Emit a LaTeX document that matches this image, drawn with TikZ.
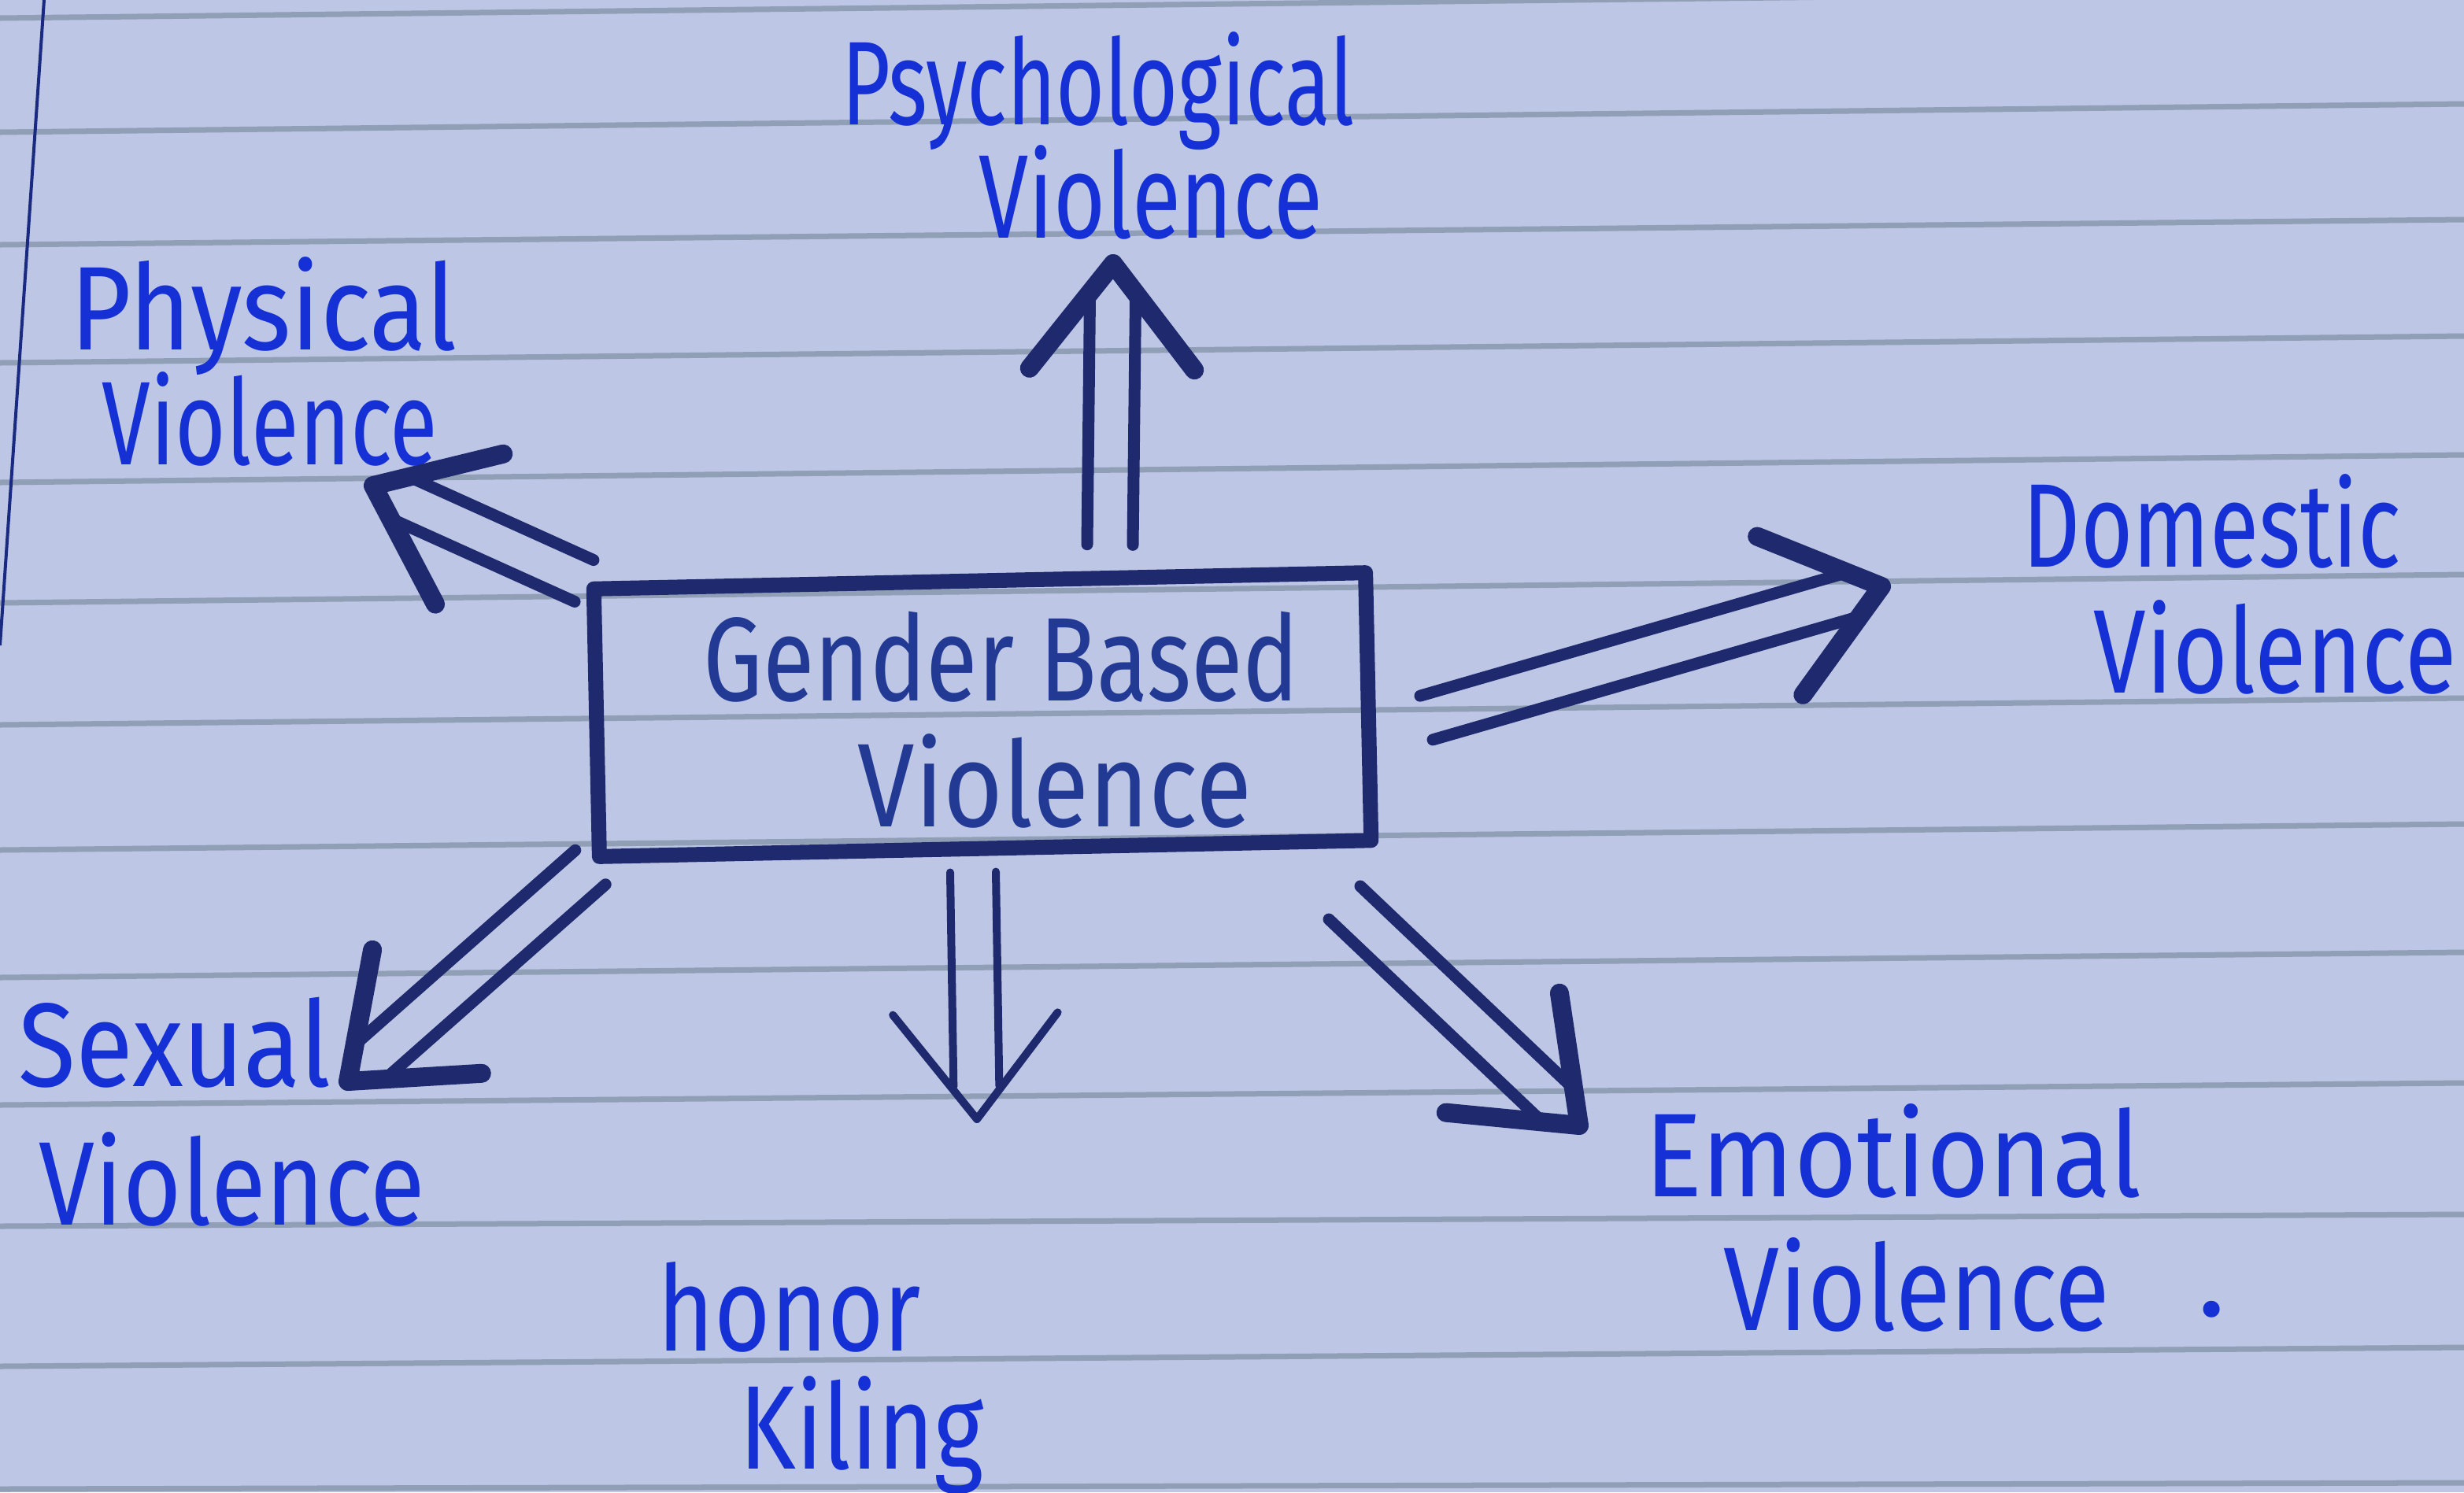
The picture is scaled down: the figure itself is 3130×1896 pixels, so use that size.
\documentclass[tikz,border=0pt]{standalone}
\usepackage{fontspec}
\setmainfont{Fira Sans}
\usepackage{graphicx}
\usetikzlibrary{calc}
\definecolor{paper}{HTML}{BEC6E5}
\definecolor{rulecol}{HTML}{909EB6}
\definecolor{inkblue}{HTML}{1530D5}
\definecolor{navy}{HTML}{1F2A6E}
\definecolor{navytext}{HTML}{233A94}
\definecolor{margincol}{HTML}{1A2A80}
\newcommand\hw[2]{\resizebox{#1}{\height}{#2}}
\newcommand\dblarrow[3][]{%
  \path ($(#3)!0.42cm!(#2)$) coordinate (dbE);
  \draw[shaft,#1] ($(#2)!0.29cm!90:(dbE)$) -- ($(dbE)!0.29cm!-90:(#2)$);
  \draw[shaft,#1] ($(#2)!0.29cm!-90:(dbE)$) -- ($(dbE)!0.29cm!90:(#2)$);
  \draw[chev,#1] ($(#3)!1.7cm!38:(#2)$) -- (#3) -- ($(#3)!1.7cm!-38:(#2)$);
}
\begin{document}
\begin{tikzpicture}[x=0.01cm,y=-0.01cm,
  lbl/.style={inner sep=0pt, anchor=base, text=inkblue, font=\fontsize{43}{48}\selectfont},
  ctr/.style={lbl, text=navytext},
  boxstyle/.style={draw=navy, line width=0.19cm, rectangle, inner sep=0pt, line join=round},
  shaft/.style={draw=navy, line width=0.15cm, line cap=round},
  chev/.style={draw=navy, line width=0.24cm, line cap=round, line join=round},
  ruled/.style={draw=rulecol, line width=0.07cm},
  thinarrow/.style={line width=0.1cm}]
\useasboundingbox (0,0) rectangle (3130,1896);
\fill[paper] (0,0) rectangle (3130,1896);
% ruled lines
\foreach \a/\b in {23/-13,168/132,311/279,461/427,613/578,766/730,921/887,1080/1047,1242/1210,1404/1376,1558/1543,1736/1712,1892/1884}
  \draw[ruled] (0,\a) -- (3130,\b);
\draw[margincol, line width=0.04cm] (56,0) -- (0,820);

% central box
\node[boxstyle, rotate=1.2, minimum width=9.8cm, minimum height=3.4cm] (gbv) at (1248,908) {};
\node[ctr] (gbvA) at (1272,890) {\hw{7.56cm}{Gender Based}};
\node[ctr] (gbvB) at (1340,1050) {\hw{5.0cm}{Violence}};

% labels
\node[lbl] (psyA) at (1395,158) {\hw{6.5cm}{Psychological}};
\node[lbl] (psyB) at (1462,302) {\hw{4.36cm}{Violence}};
\node[lbl] (phyA) at (335,444) {\hw{4.9cm}{Physical}};
\node[lbl] (phyB) at (343,590) {\hw{4.26cm}{Violence}};
\node[lbl] (domA) at (2810,720) {\hw{4.8cm}{Domestic}};
\node[lbl] (domB) at (2890,880) {\hw{4.6cm}{Violence}};
\node[lbl] (sexA) at (222,1380) {\hw{3.96cm}{Sexual}};
\node[lbl] (sexB) at (295,1556) {\hw{4.9cm}{Violence}};
\node[lbl] (honA) at (1003,1716) {\hw{3.34cm}{honor}};
\node[lbl] (honB) at (1095,1866) {\hw{3.1cm}{Kiling}};
\node[lbl] (emoA) at (2405,1520) {\hw{6.3cm}{Emotional}};
\node[lbl] (emoB) at (2435,1690) {\hw{4.9cm}{Violence}};
\node[lbl] (emodot) at (2810,1672) {.};

% arrow end points
\coordinate (psyS) at (1410,692);  \coordinate (psyT) at (1414,335);
\coordinate (phyS) at (742,738);   \coordinate (phyT) at (474,617);
\coordinate (domS) at (1812,912);  \coordinate (domT) at (2390,745);
\coordinate (sexS) at (750,1102);  \coordinate (sexT) at (442,1374);
\coordinate (honS) at (1236,1108); \coordinate (honT) at (1241,1422);
\coordinate (emoS) at (1708,1147); \coordinate (emoT) at (2006,1430);

\dblarrow{psyS}{psyT}
\dblarrow{phyS}{phyT}
\dblarrow{domS}{domT}
\dblarrow{sexS}{sexT}
\dblarrow[thinarrow]{honS}{honT}
\dblarrow{emoS}{emoT}
\end{tikzpicture}
\end{document}
